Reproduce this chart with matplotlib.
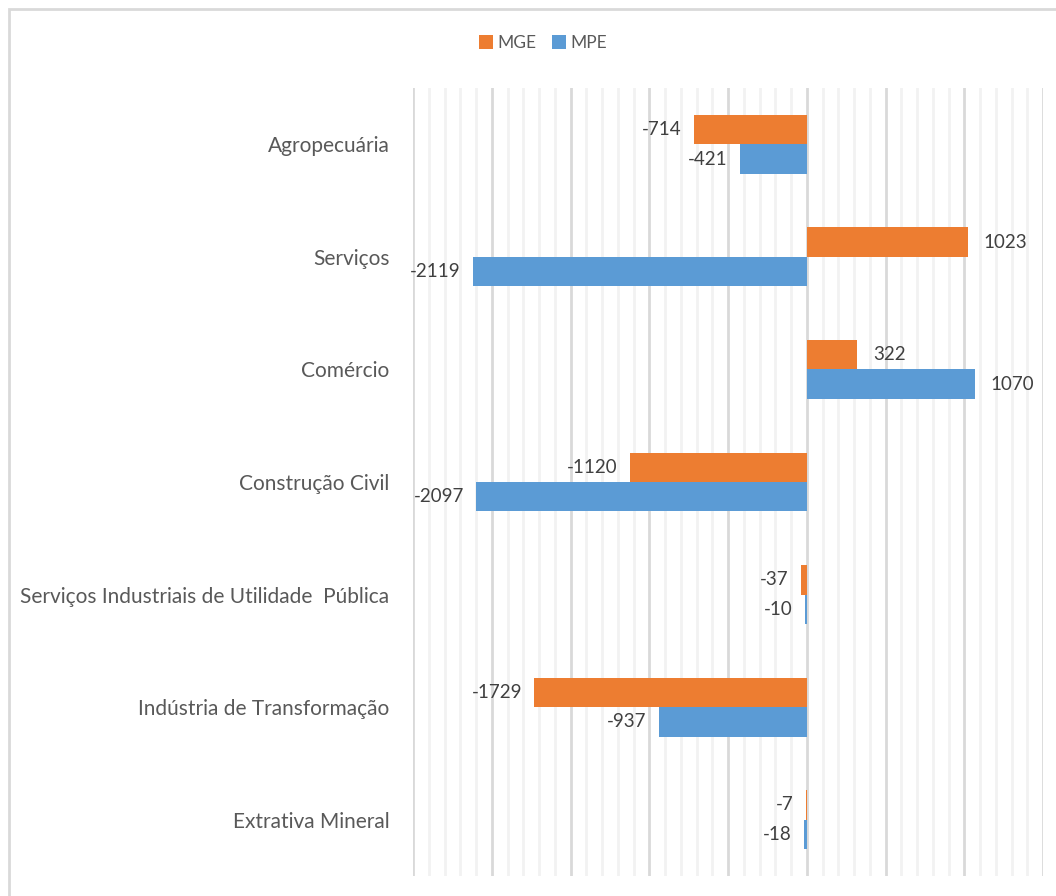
import matplotlib
matplotlib.use("Agg")
import matplotlib.pyplot as plt
import numpy as np
from matplotlib.patches import Rectangle

categories = ["Agropecuária", "Serviços", "Comércio", "Construção Civil",
              "Serviços Industriais de Utilidade  Pública",
              "Indústria de Transformação", "Extrativa Mineral"]
mge = [-714, 1023, 322, -1120, -37, -1729, -7]
mpe = [-421, -2119, 1070, -2097, -10, -937, -18]
series_names = ["MGE", "MPE"]
colors = ["#ED7D31", "#5B9BD5"]

plt.rcParams['font.family'] = ['Lato', 'DejaVu Sans']

fig = plt.figure(figsize=(10.56, 8.96), dpi=100)
fig.patches.append(Rectangle((9/1056, -0.1), 1.2, 1 - 9/896 + 0.1, transform=fig.transFigure,
                             fill=False, edgecolor="#d9d9d9", linewidth=2, zorder=0))
ax = fig.add_axes([413/1056, 1 - 876/896, 630/1056, (876 - 88)/896])

n = len(categories)
y = np.arange(n)
h = 0.262
ax.barh(y - h/2, mge, height=h, color=colors[0], edgecolor="none", label=series_names[0], zorder=3)
ax.barh(y + h/2, mpe, height=h, color=colors[1], edgecolor="none", label=series_names[1], zorder=3)

for vals, off in ((mge, -h/2), (mpe, h/2)):
    for i, v in enumerate(vals):
        ha = "right" if v < 0 else "left"
        dx = -9 if v < 0 else 11
        ax.annotate(str(v), (v, i + off), xytext=(dx, 0), textcoords="offset points",
                    ha=ha, va="center", fontsize=13.5, color="#404040")

ax.set_xlim(-2500, 1500)
ax.set_ylim(n - 0.5, -0.5)
ax.set_xticks(np.arange(-2500, 1501, 500))
ax.set_xticks(np.arange(-2500, 1501, 100), minor=True)
ax.grid(which="major", axis="x", color="#d9d9d9", linewidth=2, zorder=1)
ax.grid(which="minor", axis="x", color="#f2f2f2", linewidth=2, zorder=0)
ax.tick_params(axis="x", which="both", length=0, labelbottom=False)
ax.tick_params(axis="y", length=0, pad=17)
ax.set_yticks(y)
ax.set_yticklabels(categories, fontsize=15, color="#595959")
for s in ax.spines.values():
    s.set_visible(False)

fig.legend(loc="center", bbox_to_anchor=(543/1056, 1 - 43/896), ncol=2, frameon=False,
           fontsize=12.5, handlelength=0.8, handleheight=0.8, handletextpad=0.25,
           columnspacing=0.9, labelcolor="#595959")

fig.savefig("out.png", dpi=100)
